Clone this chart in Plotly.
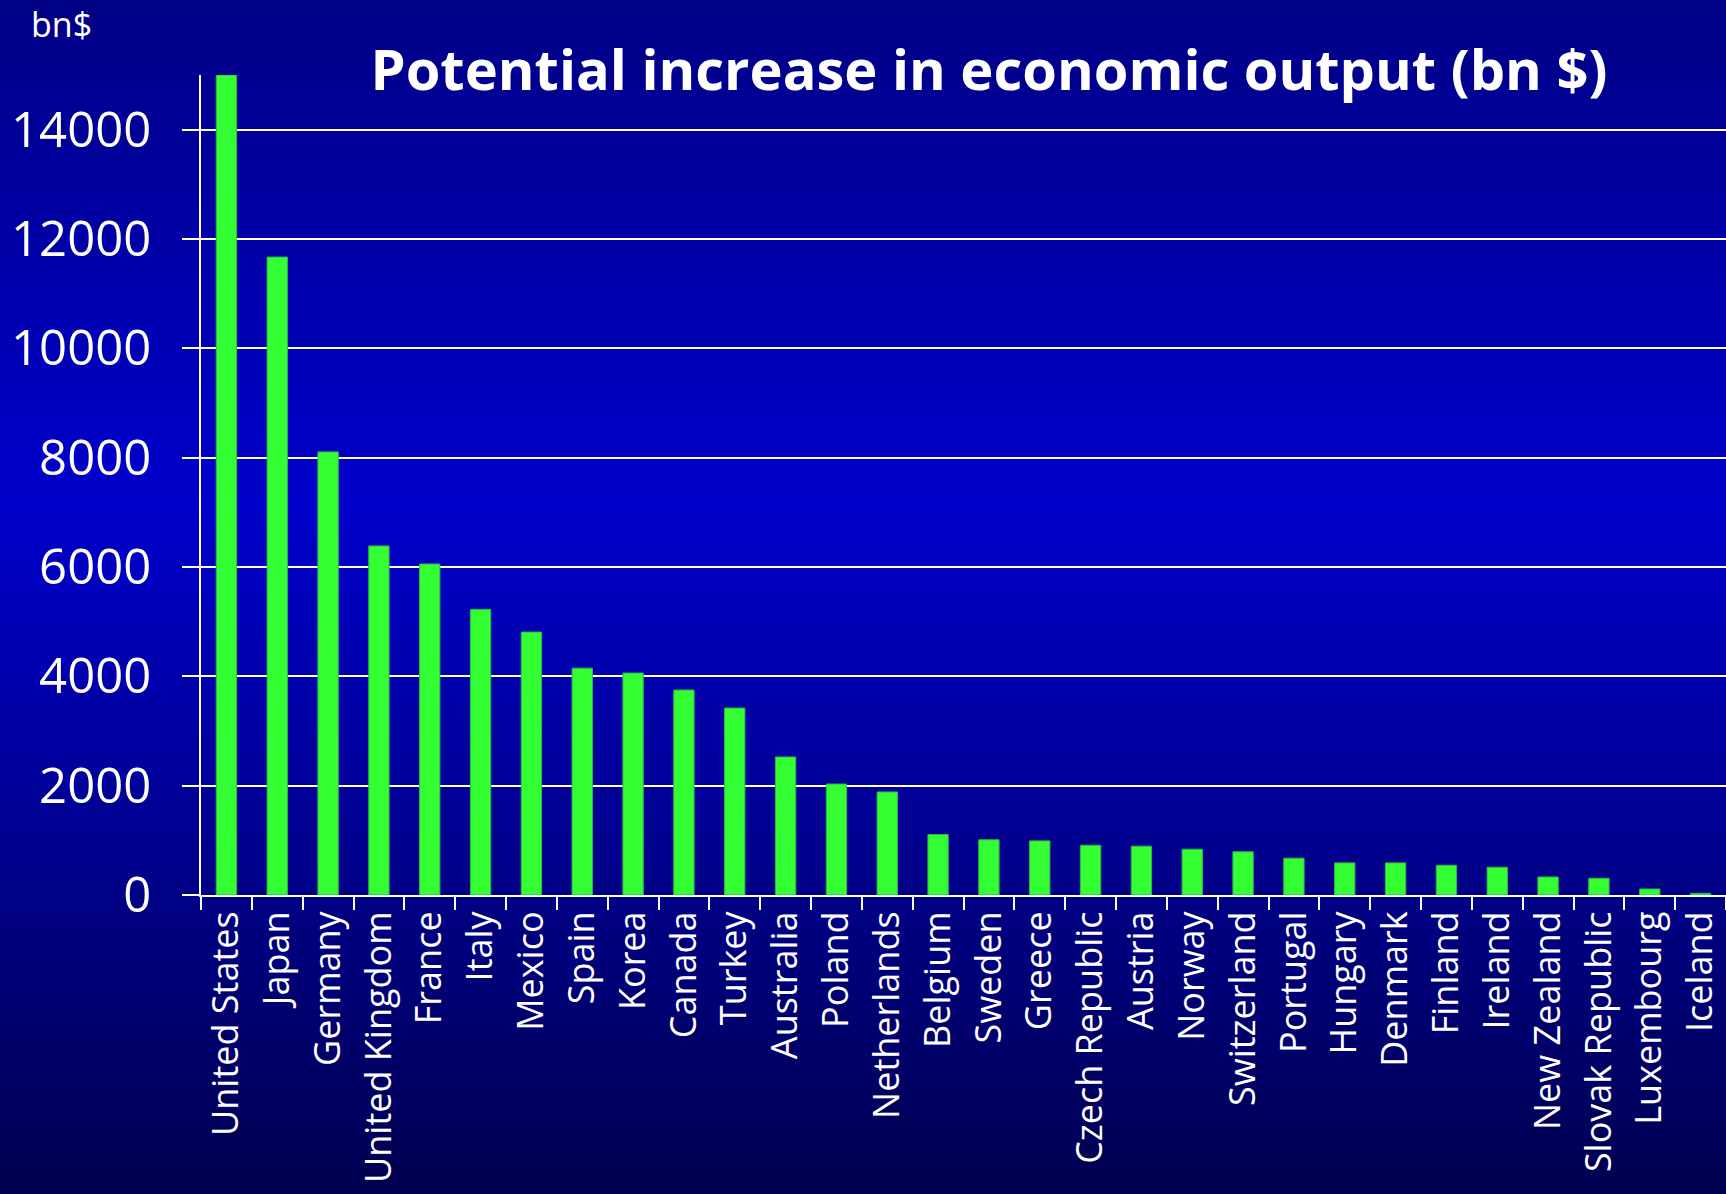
import plotly.graph_objects as go

countries = ["United States", "Japan", "Germany", "United Kingdom", "France", "Italy",
             "Mexico", "Spain", "Korea", "Canada", "Turkey", "Australia", "Poland",
             "Netherlands", "Belgium", "Sweden", "Greece", "Czech Republic", "Austria",
             "Norway", "Switzerland", "Portugal", "Hungary", "Denmark", "Finland",
             "Ireland", "New Zealand", "Slovak Republic", "Luxembourg", "Iceland"]
values = [15000, 11670, 8105, 6385, 6055, 5225, 4810, 4150, 4060, 3750, 3420, 2525, 2030,
          1885, 1105, 1010, 990, 910, 893, 838, 790, 673, 587, 587, 544, 508, 330, 306,
          110, 31]

y_ticks = [0, 2000, 4000, 6000, 8000, 10000, 12000, 14000]
y_tick_labels = ["0", "2000", "4000", "6000", "8000", "10000", "12000", "14000"]

W, H = 1726, 1194
FONT = "Open Sans"

# vertical background gradient (dark navy -> bright blue -> dark navy)
stops = [(0.0, (0, 0, 0x84)), (0.42, (0, 0, 0xCC)), (1.0, (0, 0, 0x50))]

def grad(t):
    for (t0, c0), (t1, c1) in zip(stops[:-1], stops[1:]):
        if t0 <= t <= t1:
            f = (t - t0) / (t1 - t0)
            return "rgb(%d,%d,%d)" % tuple(round(a + (b - a) * f) for a, b in zip(c0, c1))
    return "rgb(%d,%d,%d)" % stops[-1][1]

ml, mr, mt, mb = 201, 0, 75, 299
ph = H - mt - mb

n = 120
shapes = []
for i in range(n):
    t = (i + 0.5) / n
    top_px = i * H / n
    bot_px = (i + 1) * H / n + 1
    y1 = 1 - (top_px - mt) / ph if i > 0 else 1 + (mt + 50) / ph
    y0 = 1 - (bot_px - mt) / ph if i < n - 1 else -(mb + 50) / ph
    shapes.append(dict(type="rect", xref="paper", yref="paper", layer="below",
                       x0=-0.5, x1=1.5, y0=y0, y1=y1,
                       fillcolor=grad(t), line=dict(width=0)))

fig = go.Figure(go.Bar(
    x=countries, y=values, width=0.4,
    marker=dict(color="#33FF33", line=dict(color="#2BB84A", width=1)),
))

fig.update_layout(
    width=W, height=H,
    margin=dict(l=ml, r=mr, t=mt, b=mb),
    paper_bgcolor="#000060", plot_bgcolor="rgba(0,0,0,0)",
    shapes=shapes,
    showlegend=False,
    font=dict(family=FONT, color="white"),
    title=dict(text="<b>Potential increase in economic output (bn $)</b>",
               x=0.573, xanchor="center", y=1 - 70 / H, yanchor="middle",
               font=dict(family=FONT, size=56, color="white")),
    annotations=[dict(text="bn$", xref="paper", yref="paper",
                      x=(61 - ml) / (W - ml - mr), y=1 + (mt - 24) / ph,
                      xanchor="center", yanchor="middle", showarrow=False,
                      font=dict(family=FONT, size=34, color="white"))],
    bargap=0.6,
)
fig.update_xaxes(
    type="category", range=[-0.5, len(countries) - 0.5],
    showline=True, linecolor="white", linewidth=2,
    ticks="outside", tickson="boundaries", ticklen=13, tickwidth=2, tickcolor="white",
    tickangle=-90, tickfont=dict(family=FONT, size=36, color="white"),
    showgrid=False,
)
fig.update_yaxes(
    range=[0, 15000], tickvals=y_ticks, ticktext=y_tick_labels,
    showgrid=True, gridcolor="white", gridwidth=1.5,
    showline=True, linecolor="white", linewidth=2,
    ticks="outside", ticklen=17, tickwidth=2, tickcolor="white",
    ticklabelstandoff=21,
    tickfont=dict(family=FONT, size=49, color="white"),
    zeroline=False,
)

fig.write_html("out.html")
